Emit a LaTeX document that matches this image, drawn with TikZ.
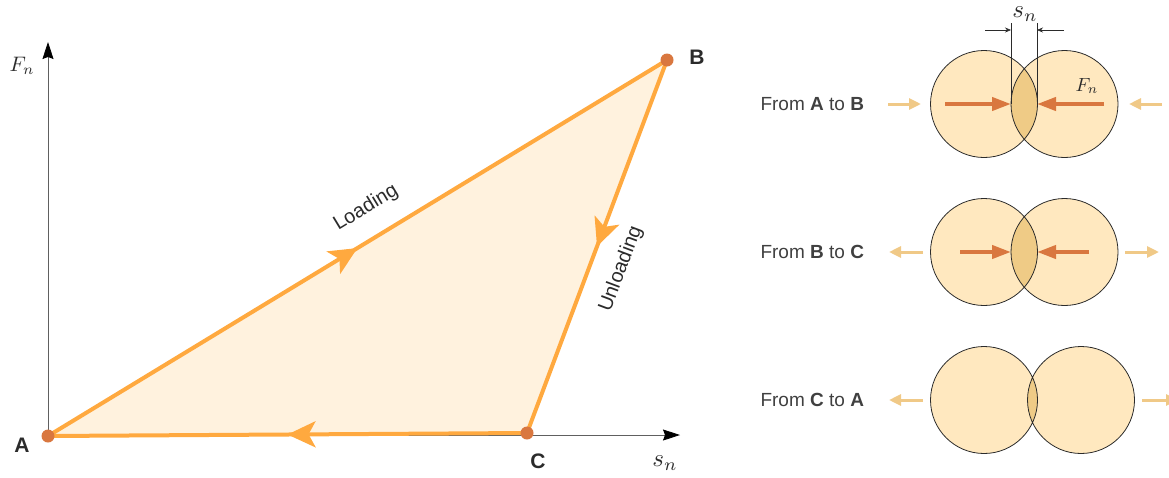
\documentclass[tikz,border=0pt]{standalone}
\usepackage{fontspec}
\setsansfont{Liberation Sans}
\usetikzlibrary{arrows.meta,decorations.markings}
\definecolor{ink}{HTML}{2B2B2B}
\definecolor{loadline}{HTML}{FFA93F}
\definecolor{loadfill}{HTML}{FFF2DE}
\definecolor{dot}{HTML}{D9773F}
\definecolor{ballfill}{HTML}{FFE8BF}
\definecolor{lensfill}{HTML}{EFCB86}
\definecolor{pale}{HTML}{F0C987}
\tikzset{
  midarrow/.style={postaction={decorate},decoration={markings,
    mark=at position 0.5 with {\arrow{Stealth[length=28pt,width=26pt,inset=7pt]}}}},
  edge/.style={line width=4pt,loadline,midarrow},
  axis/.style={ink!75,line width=0.8pt,-{Stealth[length=17pt,width=11pt,inset=2pt,black]}},
  rowtext/.style={anchor=west,text=ink!90,font=\sffamily\fontsize{19}{22}\selectfont},
  force/.style={dot,line width=4pt,-{Triangle[length=19pt,width=13pt]}},
  push/.style={pale,line width=3pt,-{Triangle[length=12pt,width=11pt]}},
  rim/.style={ink,line width=0.8pt},
  dimline/.style={ink,line width=0.6pt},
  mathlabel/.style={inner sep=0pt,text=ink,font=\fontsize{10}{12}\selectfont},
  pointlabel/.style={text=ink,font=\sffamily\bfseries\fontsize{21}{24}\selectfont}
}
\begin{document}
\begin{tikzpicture}[x=1pt,y=-1pt,font=\sffamily\fontsize{20}{23}\selectfont]
\useasboundingbox (0,0) rectangle (1169,477);
% force-displacement loop
\coordinate (A) at (48,436);
\coordinate (B) at (667,60);
\coordinate (C) at (527,433);
\coordinate (ytip) at (48,42);
\coordinate (xtip) at (680,435);
\fill[loadfill] (A) -- (B) -- (C) -- cycle;
\draw[axis] (48,436) -- (ytip);
\draw[axis] (48,435) -- (xtip);
\draw[edge] (A) -- (B);
\draw[edge] (B) -- (C);
\draw[edge] (C) -- (A);
\fill[dot] (A) circle (6.5) (B) circle (6.5) (C) circle (6.5);
\node[pointlabel] (labA) at (22,445) {A};
\node[pointlabel] (labB) at (697,57) {B};
\node[pointlabel] (labC) at (538,461) {C};
\node[mathlabel,scale=2.1] (labF) at (22,66) {$F_n$};
\node[mathlabel,scale=2.5] (labs) at (665,463) {$s_n$};
\node[text=ink,rotate=31.3] (load) at (366,208) {Loading};
\node[text=ink,rotate=69.4] (unload) at (621,269) {Unloading};
% row A to B
\begin{scope}[shift={(0,104)}]
\fill[ballfill] (984,0) circle (53.5) (1064.5,0) circle (53.5);
\begin{scope}
\clip (984,0) circle (53.5);
\fill[lensfill] (1064.5,0) circle (53.5);
\end{scope}
\draw[rim] (984,0) circle (53.5) (1064.5,0) circle (53.5);
\node[rowtext] (rowab) at (757,0) {From \textbf{A} to \textbf{B}};
\draw[push] (888,0) -- (921,0);
\draw[push] (1162,0) -- (1129,0);
\draw[force] (945,0) -- (1011,0);
\draw[force] (1104,0) -- (1037,0);
\node[mathlabel,scale=1.9] (fn) at (1087,-18) {$F_n$};
\end{scope}
\draw[dimline] (1011,23) -- (1011,104) (1037,23) -- (1037,104);
\draw[dimline,-{Stealth[length=6pt,width=5pt]}] (985,30) -- (1011,30);
\draw[dimline,-{Stealth[length=6pt,width=5pt]}] (1064,30) -- (1037,30);
\node[mathlabel,scale=2.5] (sn) at (1025,14) {$s_n$};
% row B to C
\begin{scope}[shift={(0,252)}]
\fill[ballfill] (984,0) circle (53.5) (1064.5,0) circle (53.5);
\begin{scope}
\clip (984,0) circle (53.5);
\fill[lensfill] (1064.5,0) circle (53.5);
\end{scope}
\draw[rim] (984,0) circle (53.5) (1064.5,0) circle (53.5);
\node[rowtext] (rowbc) at (757,0) {From \textbf{B} to \textbf{C}};
\draw[push] (923,0) -- (889,0);
\draw[push] (1125,0) -- (1159,0);
\draw[force] (960,0) -- (1011,0);
\draw[force] (1089,0) -- (1037,0);
\end{scope}
% row C to A
\begin{scope}[shift={(0,400)}]
\fill[ballfill] (984,0) circle (53.5) (1081,0) circle (53.5);
\begin{scope}
\clip (984,0) circle (53.5);
\fill[lensfill] (1081,0) circle (53.5);
\end{scope}
\draw[rim] (984,0) circle (53.5) (1081,0) circle (53.5);
\node[rowtext] (rowca) at (757,0) {From \textbf{C} to \textbf{A}};
\draw[push] (923,0) -- (889,0);
\draw[push] (1142,0) -- (1178,0);
\end{scope}
\end{tikzpicture}
\end{document}
